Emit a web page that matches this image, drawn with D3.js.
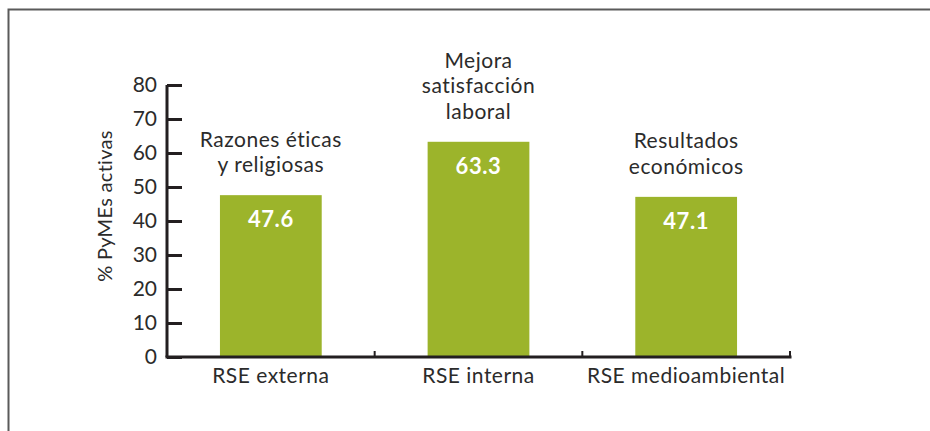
<!DOCTYPE html>
<html>
<head>
<meta charset="utf-8">
<script src="https://cdn.jsdelivr.net/npm/d3@7"></script>
<style>
  body { margin: 0; background: #fff; }
  svg { display: block; font-family: Lato, "Open Sans", sans-serif; }
</style>
</head>
<body>
<div id="plot"></div>
<script>
const categories = ['RSE externa', 'RSE interna', 'RSE medioambiental'];
const values = [47.6, 63.3, 47.1];
const notes = [
    ['Razones éticas', 'y religiosas'],
    ['Mejora', 'satisfacción', 'laboral'],
    ['Resultados', 'económicos']
];
const yTicks = [0, 10, 20, 30, 40, 50, 60, 70, 80];

const green = '#9cb42b';
const ink = '#231f20';
const textInk = '#2b2b2b';

const W = 930, H = 431;
const margin = {t: 85, r: 140, b: 74, l: 167};

const svg = d3.select('#plot')
    .append('svg')
    .attr('width', W)
    .attr('height', H);

// frame, open on right and bottom
svg.append('path')
    .attr('d', `M8.5,${H} V9.5 H${W}`)
    .attr('fill', 'none')
    .attr('stroke', '#5a5a5a')
    .attr('stroke-width', 2);

const x = d3.scaleBand()
    .domain(categories)
    .range([margin.l, W - margin.r])
    .padding(0);

const y = d3.scaleLinear()
    .domain([0, 80])
    .range([H - margin.b, margin.t]);

const barW = x.bandwidth() * 0.49;

const g = svg.append('g');

// bars
g.selectAll('.bar')
    .data(values)
    .enter()
    .append('rect')
    .attr('class', 'bar')
    .attr('x', (d, i) => x(categories[i]) + (x.bandwidth() - barW) / 2)
    .attr('y', d => y(d))
    .attr('width', barW)
    .attr('height', d => y(0) - y(d))
    .attr('fill', green);

// value labels
g.selectAll('.val')
    .data(values)
    .enter()
    .append('text')
    .attr('class', 'val')
    .attr('x', (d, i) => x(categories[i]) + x.bandwidth() / 2)
    .attr('y', d => y(d) + 32)
    .attr('text-anchor', 'middle')
    .attr('fill', '#fff')
    .attr('font-weight', 700)
    .attr('font-size', 22)
    .attr('letter-spacing', 0.6)
    .text(d => d.toFixed(1));

// notes above bars
notes.forEach((lines, i) => {
    const cx = x(categories[i]) + x.bandwidth() / 2;
    const top = y(values[i]) - 23 - (lines.length - 1) * 25.5;
    g.append('text')
        .attr('x', cx)
        .attr('y', top)
        .attr('text-anchor', 'middle')
        .attr('fill', textInk)
        .attr('font-size', 21)
        .attr('letter-spacing', 0.5)
        .selectAll('tspan')
        .data(lines)
        .enter()
        .append('tspan')
        .attr('x', cx)
        .attr('dy', (d, j) => j === 0 ? 0 : 25.5)
        .text(d => d);
});

// y axis
const yAxis = d3.axisRight(y)
    .tickValues(yTicks)
    .tickSize(15)
    .tickFormat(d => d);

const ya = svg.append('g')
    .attr('transform', `translate(${margin.l},0)`)
    .call(yAxis);
ya.select('.domain').attr('d', `M0,${y(80)}V${y(0)}`).attr('stroke', ink).attr('stroke-width', 3);
ya.selectAll('.tick line').attr('stroke', ink).attr('stroke-width', 3);
ya.selectAll('.tick text')
    .attr('x', -10)
    .attr('text-anchor', 'end')
    .attr('fill', textInk)
    .attr('font-size', 21)
    .attr('font-family', 'Lato, sans-serif');

// x axis
const xa = svg.append('g')
    .attr('transform', `translate(0,${y(0)})`);
xa.append('line')
    .attr('x1', margin.l - 1.5)
    .attr('x2', W - margin.r + 1.5)
    .attr('stroke', ink)
    .attr('stroke-width', 3);
const edges = categories.map(c => x(c) + x.bandwidth());
xa.selectAll('.sep')
    .data(edges)
    .enter()
    .append('line')
    .attr('x1', d => d)
    .attr('x2', d => d)
    .attr('y1', 0)
    .attr('y2', -6)
    .attr('stroke', ink)
    .attr('stroke-width', 2);
xa.selectAll('.lab')
    .data(categories)
    .enter()
    .append('text')
    .attr('x', d => x(d) + x.bandwidth() / 2)
    .attr('y', 26)
    .attr('text-anchor', 'middle')
    .attr('fill', textInk)
    .attr('font-size', 21)
    .attr('letter-spacing', 0.5)
    .text(d => d);

// y title
svg.append('text')
    .attr('transform', `translate(112,${(y(0) + y(80)) / 2 - 15}) rotate(-90)`)
    .attr('text-anchor', 'middle')
    .attr('fill', textInk)
    .attr('font-size', 20)
    .attr('letter-spacing', 0.3)
    .text('% PyMEs activas');
</script>
</body>
</html>
